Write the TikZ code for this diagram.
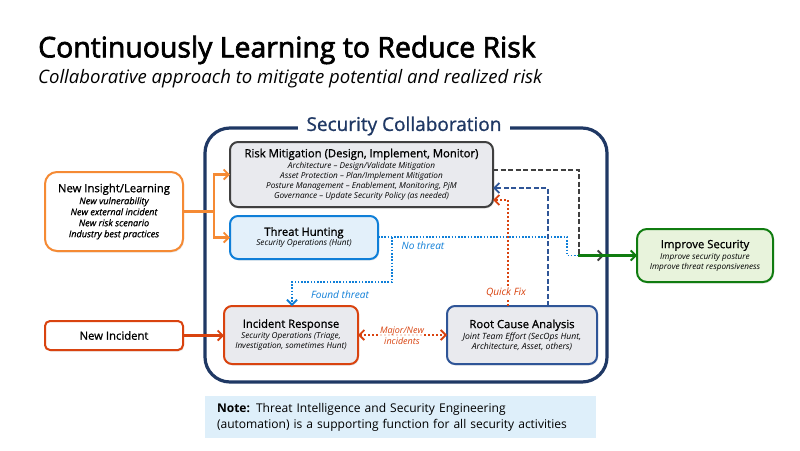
\documentclass[tikz,border=0pt]{standalone}
\usepackage{fontspec}
\setmainfont{Open Sans}
\newfontfamily\medfont{Open Sans}[FakeBold=1]
\newfontfamily\titlefont{Open Sans}[FakeBold=2.4]
\usetikzlibrary{arrows.meta,shadows}

\definecolor{navy}{HTML}{1F3864}
\definecolor{orangeline}{HTML}{F58A34}
\definecolor{blueline}{HTML}{0F7FD8}
\definecolor{redline}{HTML}{D9430F}
\definecolor{greenline}{HTML}{107C10}
\definecolor{grayline}{HTML}{404040}
\definecolor{rootline}{HTML}{2F5597}
\definecolor{boxgray}{HTML}{E9EAEE}
\definecolor{boxblue}{HTML}{E3F0FA}
\definecolor{boxgreen}{HTML}{E8F3DC}
\definecolor{notefill}{HTML}{DEEFFA}

\newcommand{\headtxt}{\fontsize{11.3}{13}\medfont\upshape}
\newcommand{\subtxt}{\fontsize{8.2}{10}\selectfont\itshape}

\tikzset{
	box/.style={draw,line width=2pt,rounded corners=8pt,inner sep=0pt,outer sep=0pt,align=center,text=black,font=\subtxt,
		drop shadow={opacity=0.18,shadow xshift=1pt,shadow yshift=-1.5pt}},
	endtip/.style={-{Straight Barb[length=5pt,width=10pt,line width=1.8pt]}},
	bothtip/.style={{Straight Barb[length=5pt,width=10pt,line width=1.8pt]}-{Straight Barb[length=5pt,width=10pt,line width=1.8pt]}},
	solidline/.style={line width=2.4pt},
	dotline/.style={line width=2pt,dash pattern=on 2pt off 2pt},
	thindot/.style={line width=1.6pt,dash pattern=on 1.6pt off 1.6pt},
	dashline/.style={line width=1.8pt,dash pattern=on 5pt off 2.5pt},
	lbl/.style={font=\fontsize{10.1}{11}\selectfont\itshape,inner sep=0pt,align=center}
}

\begin{document}
\begin{tikzpicture}[x=1pt,y=-1pt]
	\useasboundingbox (0,0) rectangle (800,450);
	\fill[white] (0,0) rectangle (800,450);
	\node[anchor=west,inner sep=0pt,font=\fontsize{28.4}{30}\titlefont] (maintitle) at (38,50) {Continuously Learning to Reduce Risk};
	\node[anchor=west,inner sep=0pt,font=\fontsize{18.55}{22}\selectfont\itshape] (subtitle) at (38,79) {Collaborative approach to mitigate potential and realized risk};
	% big frame
	\draw[navy,line width=3.2pt,rounded corners=25pt] (205,128) rectangle (607,382);
	\node[fill=white,text=navy,inner sep=0pt,minimum width=212pt,minimum height=20pt,font=\fontsize{19}{20}\medfont] (collab) at (404,126) {Security Collaboration};
	% boxes
	\node[box,grayline,fill=boxgray,text=black,minimum width=263pt,minimum height=65pt] (risk) at (361.5,174.5) {{\headtxt Risk Mitigation (Design, Implement, Monitor)}\\[1pt]Architecture -- Design/Validate Mitigation\\Asset Protection -- Plan/Implement Mitigation\\Posture Management -- Enablement, Monitoring, PjM\\Governance -- Update Security Policy (as needed)};
	\node[box,blueline,fill=boxblue,text=black,minimum width=148pt,minimum height=43pt] (hunt) at (304,237.5) {{\headtxt Threat Hunting}\\[0pt]Security Operations (Hunt)};
	\node[box,redline,fill=boxgray,text=black,minimum width=134pt,minimum height=58pt] (incident) at (291,335) {{\headtxt Incident Response}\\[1pt]Security Operations (Triage,\\Investigation, sometimes Hunt)};
	\node[box,rootline,fill=boxgray,text=black,minimum width=150pt,minimum height=58pt,font=\fontsize{8.6}{10}\selectfont\itshape] (root) at (522,335) {{\headtxt Root Cause Analysis}\\[1pt]Joint Team Effort (SecOps Hunt,\\Architecture, Asset, others)};
	\node[box,orangeline,rounded corners=12pt,fill=white,text=black,minimum width=138pt,minimum height=79pt,font=\fontsize{9.1}{11}\medfont\itshape] (insight) at (114,211.5) {{\headtxt New Insight/Learning}\\[1pt]New vulnerability\\New external incident\\New risk scenario\\Industry best practices};
	\node[box,redline,rounded corners=5pt,fill=white,text=black,minimum width=138pt,minimum height=29pt] (newinc) at (114,335.5) {\headtxt New Incident};
	\node[box,greenline,rounded corners=10pt,fill=boxgreen,text=black,minimum width=136pt,minimum height=53pt] (improve) at (705,255.5) {{\headtxt Improve Security}\\[1pt]Improve security posture\\Improve threat responsiveness};
	\node[fill=notefill,inner sep=0pt,minimum width=391pt,minimum height=42pt,text width=367pt,align=left,font=\fontsize{12.05}{16}\selectfont] (note) at (400.5,417) {\textbf{Note:} Threat Intelligence and Security Engineering\\(automation) is a supporting function for all security activities};
	% turning points
	\coordinate (orangejoin) at (214,211.5);
	\coordinate (grayturn) at (579,170);
	\coordinate (grayend) at (604,255.5);
	\coordinate (greenstart) at (578,255.5);
	\coordinate (blueturn) at (548,188);
	\coordinate (redturn) at (508,200);
	\coordinate (dotstep) at (567,237);
	\coordinate (dotbranch) at (392,237);
	\coordinate (dotleft) at (292,282);
	% connectors
	\draw[orangeline,solidline] (insight.east |- orangejoin) -- (orangejoin);
	\draw[orangeline,solidline,endtip] (orangejoin) |- (risk.west);
	\draw[orangeline,solidline,endtip] (orangejoin) |- (hunt.west);
	\draw[redline,solidline,endtip] (newinc.east) -- (incident.west |- newinc.east);
	\draw[blueline,thindot] (hunt.east |- dotstep) -- (dotstep) |- (greenstart);
	\draw[blueline,thindot,endtip] (dotbranch) |- (dotleft) -- (dotleft |- incident.north);
	\draw[grayline,dashline,endtip] (risk.east |- grayturn) -- (grayturn) |- (grayend);
	\draw[rootline,dashline,endtip] (root.north -| blueturn) |- (risk.east |- blueturn);
	\draw[redline,dotline,endtip] (root.north -| redturn) |- (risk.east |- redturn);
	\draw[redline,dotline,bothtip] (incident.east) -- (root.west);
	\draw[greenline,solidline,endtip] (greenstart) -- (improve.west |- greenstart);
	% labels
	\node[lbl,text=blueline] (nothreat) at (423,246) {No threat};
	\node[lbl,text=blueline] (found) at (340,295) {Found threat};
	\node[lbl,text=redline,fill=white,inner ysep=1pt] (quick) at (506,293) {Quick Fix};
	\node[lbl,text=redline,fill=white,fill opacity=0.8,text opacity=1,font=\fontsize{9}{11}\selectfont\itshape] (major) at (402,335.5) {Major/New\\incidents};
\end{tikzpicture}
\end{document}
